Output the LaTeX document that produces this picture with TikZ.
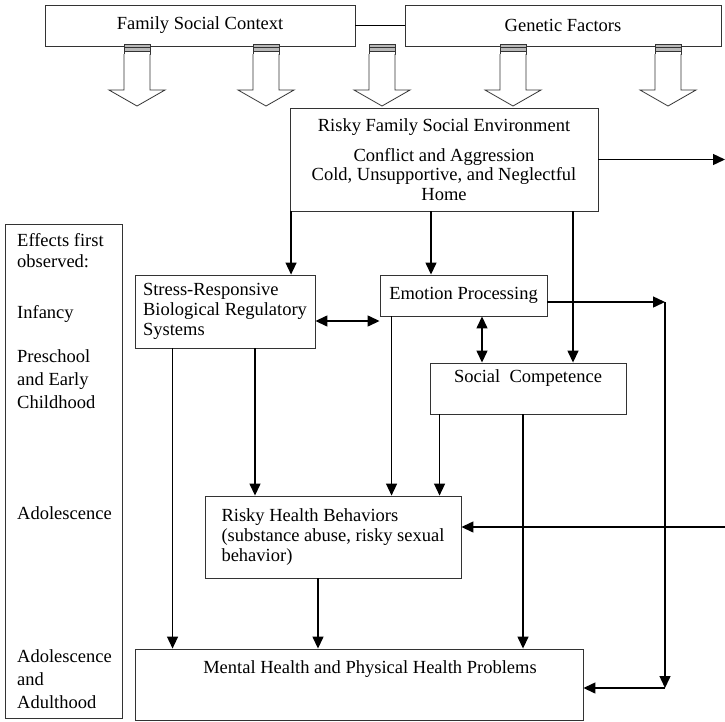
\documentclass[tikz,border=0pt]{standalone}
\usepackage{fontspec}
\setmainfont{Liberation Serif}
\usetikzlibrary{arrows.meta}

\begin{document}
\begin{tikzpicture}[x=1pt,y=-1pt,
	every node/.style={font=\fontsize{18.5}{20}\selectfont},
	box/.style={draw=black!80,line width=0.9pt,inner sep=4pt},
	arr/.style={-{Triangle[length=12pt,width=11pt]},line width=1.4pt},
	biarr/.style={{Triangle[length=12pt,width=11pt]}-{Triangle[length=12pt,width=11pt]},line width=1.4pt},
	fat/.style={draw=black!80,line width=0.8pt,fill=white}]
	\useasboundingbox (0,0) rectangle (725,721);
	\node[box,minimum width=310pt,minimum height=41pt] (fsc) at (200,25.5) {Family Social Context};
	\node[box,minimum width=316pt,minimum height=41pt] (gen) at (563,25.5) {Genetic Factors};
	\draw[line width=1.4pt] (fsc) -- (gen);
	\foreach \x in {137,266,382,513,668}{
		\draw[black!80,line width=0.7pt,fill=gray!55] (\x-13,44) rectangle (\x+13,51);
		\draw[black!80,line width=0.7pt] (\x-13,47.5) -- (\x+13,47.5) (\x-13,51) rectangle (\x+13,54);
		\draw[fat] (\x-13,54) -- (\x-13,90) -- (\x-28,90) -- (\x,106) -- (\x+28,90) -- (\x+13,90) -- (\x+13,54);
	}
	\node[box,minimum width=308pt,minimum height=103pt,align=center,font=\fontsize{18.5}{19.5}\selectfont] (rfse) at (444,159.5)
		{Risky Family Social Environment\\[10.5pt]Conflict and Aggression\\Cold, Unsupportive, and Neglectful\\Home};
	\coordinate (rfseout) at (725,159.5);
	\draw[arr] (rfse.east) -- (rfseout);
	\node[box,minimum width=117pt,minimum height=494pt] (eff) at (63.5,471) {};
	\foreach \yy/\txt [count=\i] in {246/Effects first,267/observed:,318/Infancy,362/Preschool,385/and Early,408/Childhood,519/Adolescence,662/Adolescence,685/and,708/Adulthood}
		\node[anchor=base west,inner sep=0pt] (lab\i) at (17,\yy) {\txt};
	\node[box,minimum width=180pt,minimum height=73pt,align=left] (stress) at (225,311.5) {Stress-Responsive\\Biological Regulatory\\Systems};
	\node[box,minimum width=167pt,minimum height=41pt] (emo) at (463.5,295.5) {Emotion Processing};
	\node[box,minimum width=196pt,minimum height=51pt,text height=13pt,text depth=26pt] (soc) at (528,388.5) {Social\ \ Competence};
	\node[box,minimum width=256pt,minimum height=82pt,align=left] (rhb) at (333,537) {Risky Health Behaviors\\(substance abuse, risky sexual\\behavior)};
	\node[box,minimum width=448pt,minimum height=71pt,text height=13pt,text depth=36pt] (ment) at (359,684.5) {\hspace*{22pt}Mental Health and Physical Health Problems};
	\draw[arr] ([xshift=1.5pt]rfse.south west) -- ([xshift=1.5pt]rfse.south west |- stress.north);
	\draw[arr] ([xshift=-13pt]rfse.south) -- ([xshift=-13pt]rfse.south |- emo.north);
	\draw[arr] ([xshift=129pt]rfse.south) -- ([xshift=129pt]rfse.south |- soc.north);
	\draw[biarr] ([yshift=-9.5pt]stress.east) -- ([yshift=-9.5pt]stress.east -| emo.west);
	\draw[biarr] ([xshift=18.5pt]emo.south) -- ([xshift=18.5pt]emo.south |- soc.north);
	\coordinate (rc1) at (665,302);
	\coordinate (rc2) at (665,688);
	\draw[arr] (emo.east |- rc1) -- (rc1);
	\draw[arr] (rc1) -- (rc2);
	\draw[arr] (rc2) -- (rc2 -| ment.east);
	\draw[arr] ([xshift=38pt]stress.south west) -- ([xshift=38pt]stress.south west |- ment.north);
	\draw[arr] ([xshift=30pt]stress.south) -- ([xshift=30pt]stress.south |- rhb.north);
	\draw[arr] ([xshift=12pt]emo.south west) -- ([xshift=12pt]emo.south west |- rhb.north);
	\draw[arr] ([xshift=10pt]soc.south west) -- ([xshift=10pt]soc.south west |- rhb.north);
	\draw[arr] ([xshift=-5pt]soc.south) -- ([xshift=-5pt]soc.south |- ment.north);
	\draw[arr] ([xshift=-15pt]rhb.south) -- ([xshift=-15pt]rhb.south |- ment.north);
	\coordinate (rhbin) at (725,527);
	\draw[arr] (rhbin) -- (rhbin -| rhb.east);
\end{tikzpicture}
\end{document}
